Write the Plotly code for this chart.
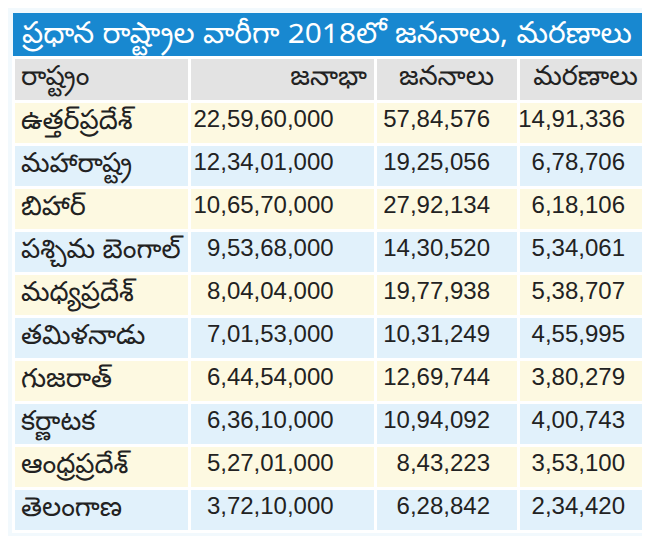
import plotly.graph_objects as go

W, H = 650, 536

title = "ప్రధాన రాష్ట్రాల వారీగా 2018లో జననాలు, మరణాలు"
headers = ["రాష్ట్రం", "జనాభా", "జననాలు", "మరణాలు"]
states = ["ఉత్తర్‌ప్రదేశ్", "మహారాష్ట్ర", "బిహార్", "పశ్చిమ\u00a0బెంగాల్", "మధ్యప్రదేశ్",
          "తమిళనాడు", "గుజరాత్", "కర్ణాటక", "ఆంధ్రప్రదేశ్", "తెలంగాణ"]
population = ["22,59,60,000", "12,34,01,000", "10,65,70,000", "9,53,68,000", "8,04,04,000",
              "7,01,53,000", "6,44,54,000", "6,36,10,000", "5,27,01,000", "3,72,10,000"]
births = ["57,84,576", "19,25,056", "27,92,134", "14,30,520", "19,77,938",
          "10,31,249", "12,69,744", "10,94,092", "8,43,223", "6,28,842"]
deaths = ["14,91,336", "6,78,706", "6,18,106", "5,34,061", "5,38,707",
          "4,55,995", "3,80,279", "4,00,743", "3,53,100", "2,34,420"]

TEL = "Noto Sans Telugu, Noto Sans, sans-serif"
NUM = "Liberation Sans, Arial, sans-serif"


def pad(values, n):
    # trailing no-break spaces push right-aligned numbers off the cell edge
    return [v + "\u00a0" * n for v in values]


row_colors = ["#fdf9e1" if i % 2 == 0 else "#e1f1fb" for i in range(len(states))]

fig = go.Figure(go.Table(
    domain=dict(x=[5 / W, 645 / W], y=[0, 1 - 49 / H]),
    columnwidth=[176, 186, 143, 135],
    header=dict(
        values=headers,
        fill_color="#e3e3e3",
        line=dict(color="white", width=3),
        align=["left", "right", "center", "center"],
        font=dict(family=TEL, size=27, color="#222"),
        height=44,
    ),
    cells=dict(
        values=[states, pad(population, 5), pad(births, 3), pad(deaths, 3)],
        fill_color=[row_colors] * 4,
        line=dict(color="white", width=3),
        align=["left", "right", "right", "right"],
        font=dict(family=[TEL, NUM, NUM, NUM], size=[27, 24, 24, 24], color="#222"),
        height=43,
    ),
))

fig.add_shape(type="rect", xref="paper", yref="paper",
              x0=5 / W, x1=645 / W, y0=1 - 53 / H, y1=1 - 5 / H,
              fillcolor="#1888d0", line=dict(width=0), layer="below")
fig.add_annotation(text=title, xref="paper", yref="paper", x=12 / W, y=1 - 29 / H,
                   xanchor="left", yanchor="middle", showarrow=False,
                   font=dict(size=29.8, color="white", family=TEL))

fig.update_layout(width=W, height=H, margin=dict(l=0, r=0, t=0, b=0),
                  paper_bgcolor="#f2f9fd", plot_bgcolor="#f2f9fd")

fig.write_html("out.html")
